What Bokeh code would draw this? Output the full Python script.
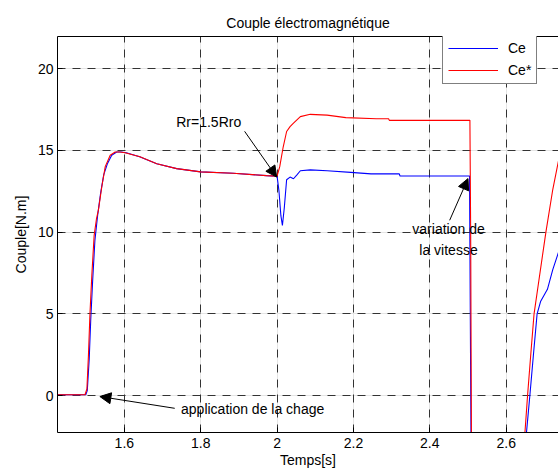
from bokeh.plotting import figure
from bokeh.models import (Range1d, LinearAxis, FixedTicker, Legend, LegendItem,
                          Arrow, NormalHead, Title, Grid)
from bokeh.core.properties import value
from bokeh.embed import file_html
from bokeh.resources import INLINE

# ---- data ----
t_ce = [1.425, 1.499, 1.503, 1.508, 1.512, 1.517, 1.523, 1.530, 1.538, 1.546,
        1.556, 1.567, 1.580, 1.592, 1.605, 1.640, 1.685, 1.737, 1.800, 1.885,
        1.972, 2.000, 2.005, 2.010, 2.014, 2.019, 2.025, 2.034, 2.043, 2.052,
        2.061, 2.087, 2.131, 2.193, 2.246, 2.320, 2.322, 2.504, 2.506, 2.508,
        2.510, 2.600, 2.653, 2.662, 2.671, 2.681, 2.690, 2.708, 2.722, 2.739]
ce = [0.05, 0.05, 0.3, 2.2, 4.6, 7.0, 9.5, 11.0, 12.4, 13.5,
      14.2, 14.7, 14.9, 14.9, 14.85, 14.6, 14.18, 13.88, 13.68, 13.6,
      13.45, 13.42, 12.5, 11.0, 10.4, 11.5, 13.2, 13.36, 13.26, 13.5,
      13.75, 13.8, 13.75, 13.65, 13.56, 13.56, 13.43, 13.43, 5.0, -3.0,
      -20.0, -20.0, -2.3, 0.0, 2.4, 5.0, 5.75, 6.5, 7.7, 8.9]

t_cs = [1.425, 1.497, 1.502, 1.506, 1.510, 1.515, 1.521, 1.527, 1.532, 1.541,
        1.550, 1.563, 1.576, 1.589, 1.602, 1.641, 1.685, 1.737, 1.800, 1.885,
        1.972, 2.000, 2.007, 2.016, 2.025, 2.034, 2.043, 2.061, 2.087, 2.131,
        2.180, 2.260, 2.292, 2.294, 2.505, 2.507, 2.509, 2.512, 2.600, 2.649,
        2.656, 2.664, 2.673, 2.686, 2.704, 2.722, 2.739]
cs = [0.05, 0.05, 0.4, 2.45, 5.0, 7.4, 9.8, 10.8, 11.33, 12.77,
      14.0, 14.7, 14.9, 14.9, 14.85, 14.6, 14.18, 13.88, 13.68, 13.6,
      13.45, 13.42, 14.0, 15.2, 16.15, 16.45, 16.66, 17.06, 17.2, 17.15,
      17.0, 16.93, 16.93, 16.83, 16.83, 10.0, -3.0, -20.0, -20.0, -2.3,
      0.0, 2.4, 5.0, 7.1, 10.0, 12.6, 14.6]

x_ticks = [1.6, 1.8, 2.0, 2.2, 2.4, 2.6]
x_tick_labels = {1.6: "1.6", 1.8: "1.8", 2.0: "2", 2.2: "2.2", 2.4: "2.4", 2.6: "2.6"}
y_ticks = [0, 5, 10, 15, 20]

# annotations: text, text position, arrow start, arrow end (data units)
ann_texts = ["Rr=1.5Rro", "variation de\nla vitesse", "application de la chage"]
ann_text_x = [1.821, 2.449, 1.936]
ann_text_y = [16.71, 9.53, -0.8]
arrow_x0 = [1.915, 2.452, 1.732]
arrow_y0 = [16.16, 10.72, -0.78]
arrow_x1 = [1.999, 2.500, 1.536]
arrow_y1 = [13.36, 13.27, -0.06]

FONT = "Liberation Sans"
FS = "14px"

p = figure(width=558, height=475, output_backend="svg", toolbar_location=None,
           x_range=Range1d(1.425, 2.737), y_range=Range1d(-2.26, 21.96),
           min_border_left=57, min_border_right=0, min_border_top=36,
           min_border_bottom=43, x_axis_location=None, y_axis_location=None)
p.outline_line_color = None
p.background_fill_color = "white"
p.border_fill_color = "white"

p.title = Title(text="Couple électromagnétique", align="center",
                text_font=FONT, text_font_size=FS, text_font_style="normal",
                text_color="black", offset=0, standoff=11)

def mk_axis(ticks, overrides=None, label=None):
    ax = LinearAxis(ticker=FixedTicker(ticks=ticks))
    ax.axis_line_color = "black"
    ax.axis_line_width = 1
    ax.major_tick_in = 5
    ax.major_tick_out = 0
    ax.minor_tick_line_color = None
    ax.major_tick_line_color = "black"
    ax.major_label_text_font = FONT
    ax.major_label_text_font_size = FS
    ax.major_label_text_color = "black"
    if overrides:
        ax.major_label_overrides = overrides
    if label:
        ax.axis_label = label
        ax.axis_label_text_font = FONT
        ax.axis_label_text_font_size = FS
        ax.axis_label_text_font_style = "normal"
        ax.axis_label_text_color = "black"
    return ax

xb = mk_axis(x_ticks, x_tick_labels, "Temps[s]")
xb.major_label_standoff = 5
xb.axis_label_standoff = 1
p.add_layout(xb, "below")
yl = mk_axis(y_ticks, None, "Couple[N.m]")
yl.major_label_standoff = 4
yl.axis_label_standoff = 6
p.add_layout(yl, "left")
xt = mk_axis([], None, None)
p.add_layout(xt, "above")

gx = Grid(dimension=0, ticker=FixedTicker(ticks=x_ticks), grid_line_color="#333333",
          grid_line_dash="8 7", grid_line_width=1)
gy = Grid(dimension=1, ticker=FixedTicker(ticks=y_ticks), grid_line_color="#333333",
          grid_line_dash="8 7", grid_line_width=1)
p.add_layout(gx)
p.add_layout(gy)

r_ce = p.line(t_ce, ce, line_color="#0000ff", line_width=1.1)
r_cs = p.line(t_cs, cs, line_color="#ff0000", line_width=1.1)

# annotations
for i in range(len(ann_texts)):
    p.add_layout(Arrow(end=NormalHead(size=11, fill_color="black", line_color="black"),
                       x_start=arrow_x0[i], y_start=arrow_y0[i],
                       x_end=arrow_x1[i], y_end=arrow_y1[i],
                       line_color="black", line_width=1))
p.text(x=ann_text_x, y=ann_text_y, text=ann_texts,
       text_font=value(FONT), text_font_size=FS, text_color="black",
       text_align="center", text_baseline="middle", text_line_height=1.3)

legend = Legend(items=[LegendItem(label="Ce", renderers=[r_ce]),
                       LegendItem(label="Ce*", renderers=[r_cs])],
                location=(385, 348))
legend.label_text_font = FONT
legend.label_text_font_size = FS
legend.label_text_color = "black"
legend.glyph_width = 50
legend.glyph_height = 16
legend.label_height = 16
legend.label_standoff = 10
legend.spacing = 6
legend.padding = 5
legend.margin = 0
legend.border_line_color = "black"
legend.border_line_width = 1
legend.background_fill_color = "white"
legend.background_fill_alpha = 1.0
p.add_layout(legend, "center")

open("out.html", "w").write(file_html(p, INLINE))
